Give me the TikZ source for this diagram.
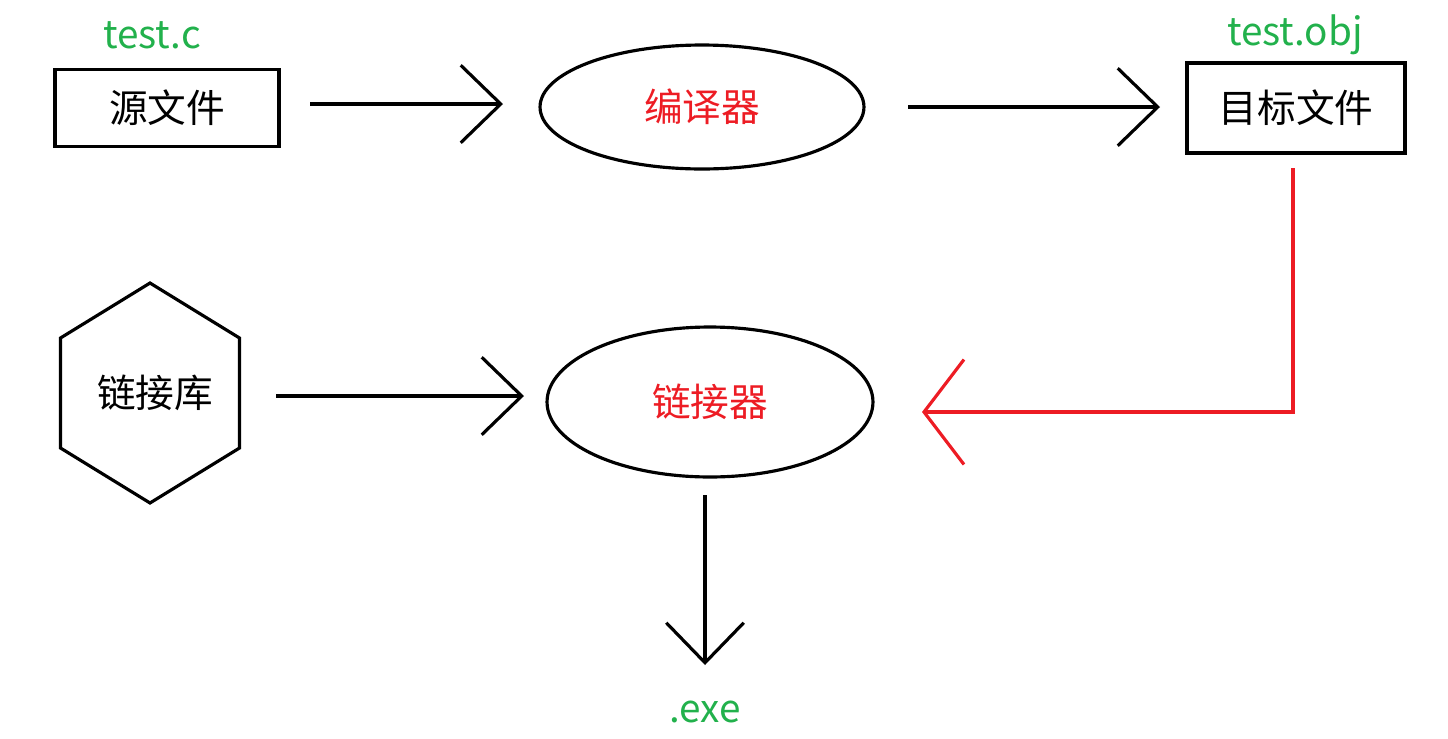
\documentclass[tikz,border=0pt]{standalone}
\usepackage{fontspec}
\setmainfont{Noto Sans CJK SC}
\usetikzlibrary{arrows.meta,shapes.geometric,positioning}
\definecolor{labgreen}{RGB}{34,177,76}
\definecolor{labred}{RGB}{237,28,36}
\tikzset{
  filebox/.style={draw,line width=1.8pt,inner sep=0pt},
  tool/.style={draw,ellipse,line width=1.8pt,inner sep=0pt,text=labred},
  libhex/.style={draw,regular polygon,regular polygon sides=6,rotate=90,line width=1.8pt,inner sep=0pt},
  tag/.style={text=labgreen,font=\fontsize{22}{26}\selectfont},
  flow/.style={line width=1.8pt,-{Straight Barb[length=0.8cm,width=1.55cm,line width=1.8pt]}},
}
\begin{document}
\begin{tikzpicture}[x=0.02cm,y=-0.02cm,font=\fontsize{22}{26}\selectfont]
  \useasboundingbox (0,0) rectangle (1448,738);
  % row 1
  \node[filebox,minimum width=4.48cm,minimum height=1.54cm] (src) at (167,108) {源文件};
  \node[tag] (srcname) at (152,35) {test.c};
  \node[tool,minimum width=6.48cm,minimum height=2.48cm] (cc) at (702,107) {编译器};
  \node[filebox,minimum width=4.36cm,minimum height=1.8cm] (obj) at (1296,108) {目标文件};
  \node[tag] (objname) at (1295,35) {test.obj};
  % row 2
  \node[libhex,minimum size=4.4cm,yscale=0.94] (lib) at (150,393) {};
  \node (libtext) at (155,393) {链接库};
  \node[tool,minimum width=6.52cm,minimum height=3cm] (ld) at (710,402) {链接器};
  \node[tag] (exe) at (705,712) {.exe};
  % connectors
  \coordinate (srcout) at (310,104);
  \coordinate (ccin) at (503,104);
  \coordinate (ccout) at (908,107);
  \coordinate (objin) at (1160,107);
  \coordinate (objdown) at (1293,168);
  \coordinate (bend) at (1293,412);
  \coordinate (ldright) at (922,412);
  \coordinate (libout) at (276,396);
  \coordinate (ldin) at (524,396);
  \coordinate (ldout) at (705,495);
  \coordinate (exein) at (705,665);
  \draw[flow] (srcout) -- (ccin);
  \draw[flow] (ccout) -- (objin);
  \draw[flow] (libout) -- (ldin);
  \draw[flow] (ldout) -- (exein);
  \draw[line width=1.8pt,labred,-{Straight Barb[length=0.8cm,width=2.1cm,line width=1.8pt]}]
    (objdown) -- (bend) -- (ldright);
\end{tikzpicture}
\end{document}
